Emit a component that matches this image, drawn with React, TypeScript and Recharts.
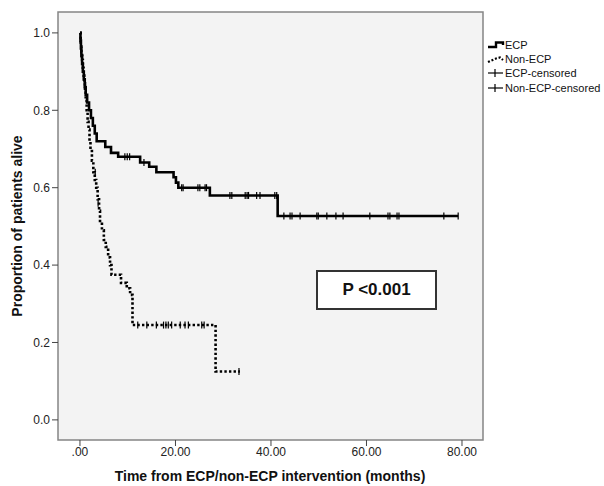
import React from 'react'
import {
  ComposedChart,
  Line,
  Scatter,
  XAxis,
  YAxis,
  ReferenceArea,
  Label,
} from 'recharts'

// Kaplan-Meier steps (time in months, proportion alive)
const ecpTime = [0, 0.1, 0.2, 0.3, 0.45, 0.6, 0.8, 1.0, 1.2, 1.5, 1.9, 2.3, 2.7, 3.1, 3.5, 5.3, 6.5, 8.0, 12.6, 14.5, 16.0, 19.6, 20.1, 20.6, 27.2, 41.4, 79.2]
const ecpSurv = [1.0, 0.98, 0.96, 0.94, 0.92, 0.9, 0.88, 0.86, 0.84, 0.82, 0.8, 0.78, 0.76, 0.74, 0.72, 0.705, 0.69, 0.68, 0.665, 0.654, 0.64, 0.627, 0.613, 0.6, 0.58, 0.527, 0.527]

const nonEcpTime = [0, 0.15, 0.3, 0.45, 0.6, 0.75, 0.9, 1.05, 1.2, 1.4, 1.6, 1.8, 2.0, 2.2, 2.5, 2.8, 3.1, 3.4, 3.7, 4.0, 4.2, 4.6, 5.0, 5.4, 5.9, 6.3, 6.6, 8.6, 9.8, 10.5, 11.0, 28.4, 33.5]
const nonEcpSurv = [1.0, 0.97, 0.95, 0.93, 0.91, 0.89, 0.87, 0.85, 0.83, 0.8, 0.77, 0.75, 0.72, 0.7, 0.67, 0.64, 0.62, 0.6, 0.57, 0.54, 0.51, 0.49, 0.465, 0.447, 0.42, 0.4, 0.375, 0.354, 0.34, 0.323, 0.245, 0.125, 0.125]

// censored observations
const ecpCensTime = [9.4, 9.9, 10.4, 13.4, 21.3, 21.6, 24.7, 25.1, 26.2, 26.5, 31.4, 31.8, 34.6, 35.0, 35.3, 37.0, 37.7, 40.8, 41.2, 42.7, 44.0, 44.4, 46.1, 49.6, 49.9, 51.7, 53.6, 55.1, 60.7, 64.5, 64.9, 66.4, 66.8, 76.2, 79.2]
const ecpCensSurv = [0.68, 0.68, 0.68, 0.665, 0.6, 0.6, 0.6, 0.6, 0.6, 0.6, 0.58, 0.58, 0.58, 0.58, 0.58, 0.58, 0.58, 0.58, 0.58, 0.527, 0.527, 0.527, 0.527, 0.527, 0.527, 0.527, 0.527, 0.527, 0.527, 0.527, 0.527, 0.527, 0.527, 0.527, 0.527]

const nonEcpCensTime = [3.2, 3.8, 12.1, 14.0, 16.0, 17.5, 18.0, 18.5, 19.2, 21.0, 22.0, 22.7, 25.5, 26.0, 33.3]
const nonEcpCensSurv = [0.64, 0.56, 0.245, 0.245, 0.245, 0.245, 0.245, 0.245, 0.245, 0.245, 0.245, 0.245, 0.245, 0.245, 0.125]

const xTicks = [0, 20, 40, 60, 80]
const yTicks = [0, 0.2, 0.4, 0.6, 0.8, 1.0]

const X_MIN = -4.6
const X_MAX = 84.4
const Y_MIN = -0.052
const Y_MAX = 1.054

const zip = (t: number[], s: number[]) => t.map((v, i) => ({ t: v, s: s[i] }))

const ecpData = zip(ecpTime, ecpSurv)
const nonEcpData = zip(nonEcpTime, nonEcpSurv)
const ecpCens = zip(ecpCensTime, ecpCensSurv)
const nonEcpCens = zip(nonEcpCensTime, nonEcpCensSurv)

const FONT = '"Liberation Sans", Arial, sans-serif'

const CensorMark = (props: any) => {
  const { cx, cy } = props
  if (cx == null || cy == null) return null
  return <line x1={cx} x2={cx} y1={cy - 3.5} y2={cy + 3.5} stroke="#000" strokeWidth={1.2} />
}

const xFmt = (v: number) => (v === 0 ? '.00' : v.toFixed(2))

export default function App() {
  return (
    <div
      style={{
        position: 'absolute',
        left: 0,
        top: 0,
        width: 604,
        height: 486,
        background: '#fff',
        fontFamily: FONT,
      }}
    >
      <ComposedChart
        width={604}
        height={486}
        margin={{ top: 12, right: 121, bottom: 16, left: 0 }}
        style={{ fontFamily: FONT }}
      >
        <ReferenceArea
          x1={X_MIN}
          x2={X_MAX}
          y1={Y_MIN}
          y2={Y_MAX}
          fill="#f3f3f3"
          fillOpacity={1}
          stroke="#858585"
          strokeWidth={1.5}
          ifOverflow="visible"
        />
        <XAxis
          type="number"
          dataKey="t"
          domain={[X_MIN, X_MAX]}
          ticks={xTicks}
          tickFormatter={xFmt}
          allowDataOverflow
          height={30}
          axisLine={false}
          tickSize={6}
          tickMargin={1}
          tickLine={{ stroke: '#444' }}
          tick={{ fill: '#222', fontSize: 12 }}
        >
          <Label
            content={() => (
              <text x={270} y={481} textAnchor="middle" fontSize={14} fontWeight="bold" fill="#111" fontFamily={FONT}>
                Time from ECP/non-ECP intervention (months)
              </text>
            )}
          />
        </XAxis>
        <YAxis
          type="number"
          dataKey="s"
          domain={[Y_MIN, Y_MAX]}
          ticks={yTicks}
          tickFormatter={(v: number) => v.toFixed(1)}
          allowDataOverflow
          width={58}
          axisLine={false}
          tickSize={6}
          tickMargin={2}
          tickLine={{ stroke: '#444' }}
          tick={{ fill: '#222', fontSize: 12 }}
        >
          <Label
            content={() => (
              <text
                x={22}
                y={226}
                transform="rotate(-90 22 226)"
                textAnchor="middle"
                fontSize={14}
                fontWeight="bold"
                fill="#111"
                fontFamily={FONT}
              >
                Proportion of patients alive
              </text>
            )}
          />
        </YAxis>
        <Line
          data={nonEcpData}
          dataKey="s"
          type="stepAfter"
          stroke="#000"
          strokeWidth={2.6}
          strokeDasharray="2.4 2.2"
          dot={false}
          activeDot={false}
          isAnimationActive={false}
        />
        <Line
          data={ecpData}
          dataKey="s"
          type="stepAfter"
          stroke="#000"
          strokeWidth={2.6}
          dot={false}
          activeDot={false}
          isAnimationActive={false}
        />
        <Scatter data={ecpCens} dataKey="s" shape={<CensorMark />} isAnimationActive={false} />
        <Scatter data={nonEcpCens} dataKey="s" shape={<CensorMark />} isAnimationActive={false} />
      </ComposedChart>

      {/* legend */}
      <svg
        width={120}
        height={70}
        style={{ position: 'absolute', left: 484, top: 34, overflow: 'visible' }}
      >
        <g fontSize={11} fill="#111" fontFamily={FONT}>
          <path d="M4 13 H12 V8.5 H19 V11" fill="none" stroke="#000" strokeWidth={2.4} />
          <text x={21} y={15}>ECP</text>
          <path d="M4 28 L12 24.5 L16 23.5 L19 26" fill="none" stroke="#000" strokeWidth={2.2} strokeDasharray="2 1.8" />
          <text x={21} y={29}>Non-ECP</text>
          <line x1={4} x2={19} y1={39} y2={39} stroke="#000" strokeWidth={1.2} />
          <line x1={11} x2={11} y1={35} y2={43} stroke="#000" strokeWidth={1.2} />
          <text x={21} y={43}>ECP-censored</text>
          <line x1={4} x2={19} y1={54} y2={54} stroke="#000" strokeWidth={1.2} />
          <line x1={11} x2={11} y1={50} y2={58} stroke="#000" strokeWidth={1.2} />
          <text x={21} y={58}>Non-ECP-censored</text>
        </g>
      </svg>

      {/* p-value box */}
      <div
        style={{
          position: 'absolute',
          left: 316,
          top: 270,
          width: 117,
          height: 36,
          border: '2px solid #333',
          background: '#fff',
          display: 'flex',
          alignItems: 'center',
          justifyContent: 'center',
          fontSize: 17,
          fontWeight: 'bold',
          color: '#111',
        }}
      >
        P &lt;0.001
      </div>
    </div>
  )
}
